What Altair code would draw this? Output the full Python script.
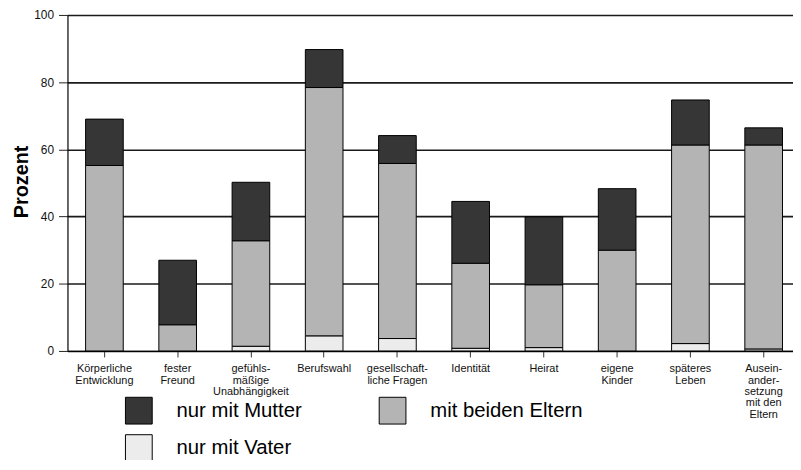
import altair as alt
import pandas as pd

categories = [
    "Körperliche\nEntwicklung",
    "fester\nFreund",
    "gefühls-\nmäßige\nUnabhängigkeit",
    "Berufswahl",
    "gesellschaft-\nliche Fragen",
    "Identität",
    "Heirat",
    "eigene\nKinder",
    "späteres\nLeben",
    "Ausein-\nander-\nsetzung\nmit den\nEltern",
]
series = ["nur mit Mutter", "mit beiden Eltern", "nur mit Vater"]
nur_vater = [0.0, 0.0, 1.4, 4.5, 3.7, 0.8, 1.0, 0.0, 2.2, 0.6]
beide_eltern = [55.2, 7.8, 31.4, 73.9, 52.1, 25.3, 18.7, 30.0, 59.1, 60.7]
nur_mutter = [13.8, 19.2, 17.4, 11.3, 8.3, 18.4, 20.2, 18.3, 13.4, 5.1]
colors = ["#363636", "#b4b4b4", "#ececec"]

rows = []
for i, c in enumerate(categories):
    rows.append({"cat": c, "series": "nur mit Vater", "value": nur_vater[i], "ord": 0})
    rows.append({"cat": c, "series": "mit beiden Eltern", "value": beide_eltern[i], "ord": 1})
    rows.append({"cat": c, "series": "nur mit Mutter", "value": nur_mutter[i], "ord": 2})
df = pd.DataFrame(rows)

chart = (
    alt.Chart(df)
    .mark_bar(stroke="black", strokeWidth=1)
    .encode(
        x=alt.X(
            "cat:N",
            sort=categories,
            scale=alt.Scale(paddingInner=0.486, paddingOuter=0.1955, align=0.633),
            axis=alt.Axis(
                title=None,
                labelAngle=0,
                labelFontSize=11,
                labelLineHeight=11.5,
                labelColor="#111",
                labelExpr="split(datum.label, '\\n')",
                tickSize=6,
                tickColor="#333",
                labelPadding=6,
                domainColor="black",
                domainWidth=1.2,
                grid=False,
            ),
        ),
        y=alt.Y(
            "value:Q",
            stack="zero",
            scale=alt.Scale(domain=[0, 100], nice=False),
            axis=alt.Axis(
                values=[0, 20, 40, 60, 80, 100],
                title="Prozent",
                titleFontSize=20,
                titleFontWeight="bold",
                titleColor="black",
                titleAngle=270,
                titleAlign="center",
                titleBaseline="alphabetic",
                titleX=-40,
                titleY=168,
                labelFontSize=12,
                labelColor="#111",
                labelPadding=5,
                tickSize=9,
                tickColor="#222",
                domainColor="black",
                domainWidth=1.2,
                grid=True,
                gridColor="#1a1a1a",
                gridWidth=1.6,
            ),
        ),
        color=alt.Color(
            "series:N",
            scale=alt.Scale(domain=series, range=colors),
            legend=alt.Legend(
                title=None,
                orient="none",
                legendX=58,
                legendY=385,
                direction="horizontal",
                columns=2,
                columnPadding=75,
                rowPadding=6,
                padding=0,
                symbolType="square",
                symbolSize=729,
                symbolStrokeColor="black",
                symbolStrokeWidth=1,
                symbolOpacity=1,
                labelFontSize=20.5,
                labelColor="black",
                labelOffset=24,
                labelLimit=300,
            ),
        ),
        order=alt.Order("ord:Q", sort="ascending"),
    )
    .properties(
        width=732,
        height=339,
        autosize=alt.AutoSizeParams(type="none"),
        padding={"left": 60, "top": 5, "right": 0, "bottom": 108},
    )
    .configure(font="Liberation Sans")
    .configure_view(stroke=None)
)

chart.save("out.html", embed_options={"renderer": "svg", "actions": False})
